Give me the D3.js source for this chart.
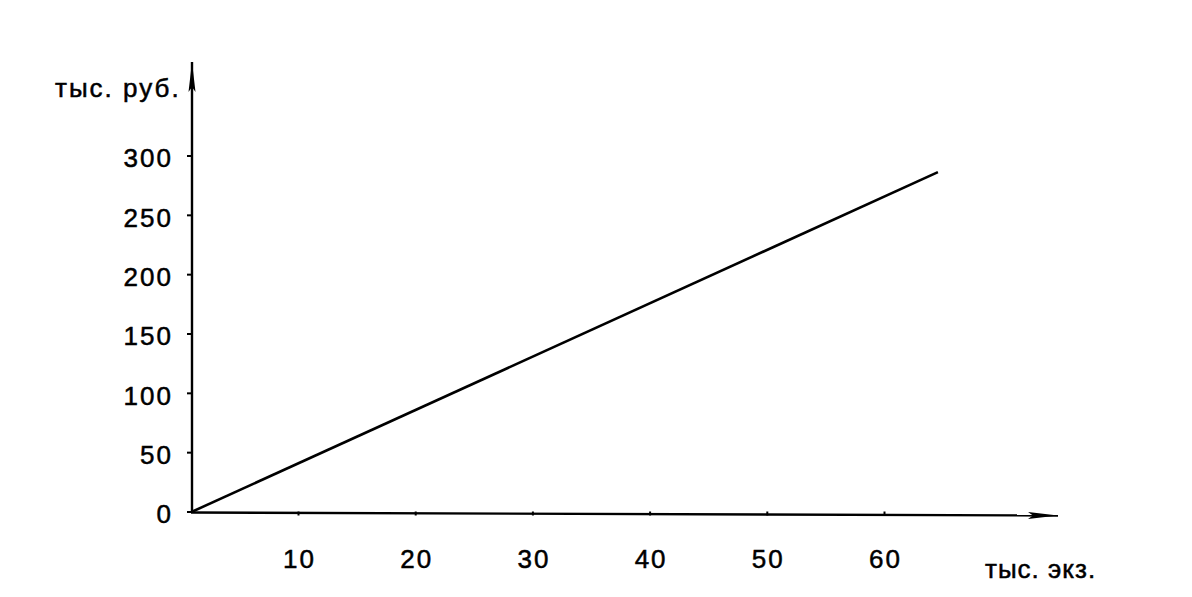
<!DOCTYPE html>
<html>
<head>
    <meta charset="utf-8">
    <script src="https://d3js.org/d3.v7.min.js"></script>
    <style>
        body { margin: 0; background: #fff; }
        svg text {
            font-family: 'Liberation Sans', Arial, sans-serif;
            fill: #000;
            stroke: #000;
            stroke-width: 0.5px;
            letter-spacing: 2px;
        }
    </style>
</head>
<body>
    <svg id="chart" width="1192" height="597"></svg>
    <script>
        // data
        var xTicks = [10, 20, 30, 40, 50, 60];
        var yTicks = [0, 50, 100, 150, 200, 250, 300];
        var lineX = [1, 64.6];
        var lineY = [0, 286];
        var xTitle = "тыс. экз.";
        var yTitle = "тыс. руб.";

        var svg = d3.select("#chart");

        // scales: 0 on x sits a little left of the drawn y axis
        var xScale = d3.scaleLinear().domain([0, 60]).range([180.8, 884]);
        var yScale = d3.scaleLinear().domain([0, 300]).range([511.5, 155.5]);

        var axisX = 192, axisY = 511.5;

        svg.append("defs").append("marker")
            .attr("id", "arrow")
            .attr("viewBox", "0 0 30 10")
            .attr("refX", 30)
            .attr("refY", 5)
            .attr("markerUnits", "userSpaceOnUse")
            .attr("markerWidth", 30)
            .attr("markerHeight", 10)
            .attr("orient", "auto")
            .append("path")
            .attr("d", "M0,1.5 L30,5 L0,8.5 L5,5 Z")
            .attr("fill", "#000");

        // y axis
        var yAxis = d3.axisLeft(yScale).tickValues(yTicks).tickSize(5).tickPadding(10);
        var gy = svg.append("g")
            .attr("transform", "translate(" + axisX + ",0)")
            .call(yAxis);
        gy.select(".domain").remove();
        gy.selectAll("line").attr("stroke", "#000").attr("stroke-width", 2);
        gy.selectAll("text")
            .style("font-size", "26px")
            .attr("fill", "#000")
            .attr("dy", "0.44em")
            .attr("x", -19);

        svg.append("line")
            .attr("x1", axisX).attr("y1", axisY + 1)
            .attr("x2", axisX).attr("y2", 62)
            .attr("stroke", "#000")
            .attr("stroke-width", 2.4)
            .attr("marker-end", "url(#arrow)");

        // x axis
        var xAxis = d3.axisBottom(xScale).tickValues(xTicks).tickSize(4).tickPadding(34);
        var gx = svg.append("g")
            .attr("transform", "translate(0," + axisY + ")")
            .call(xAxis);
        gx.select(".domain").remove();
        gx.selectAll("line").attr("stroke", "#000").attr("stroke-width", 2);
        gx.selectAll("text")
            .style("font-size", "26px")
            .attr("fill", "#000")
            .attr("dx", "1px");

        svg.append("line")
            .attr("x1", axisX - 1).attr("y1", axisY + 1)
            .attr("x2", 1058).attr("y2", axisY + 4)
            .attr("stroke", "#000")
            .attr("stroke-width", 2.4)
            .attr("marker-end", "url(#arrow)");

        // axis titles
        svg.append("text")
            .attr("x", 55)
            .attr("y", 97)
            .style("font-size", "26px")
            .text(yTitle);

        svg.append("text")
            .attr("x", 985)
            .attr("y", 578)
            .style("font-size", "26px")
            .style("letter-spacing", "1px")
            .text(xTitle);

        // the line
        var pts = lineX.map(function (d, i) { return [d, lineY[i]]; });
        var line = d3.line()
            .x(function (d) { return xScale(d[0]); })
            .y(function (d) { return yScale(d[1]); });

        svg.append("path")
            .datum(pts)
            .attr("d", line)
            .attr("fill", "none")
            .attr("stroke", "#000")
            .attr("stroke-width", 2.6);
    </script>
</body>
</html>
